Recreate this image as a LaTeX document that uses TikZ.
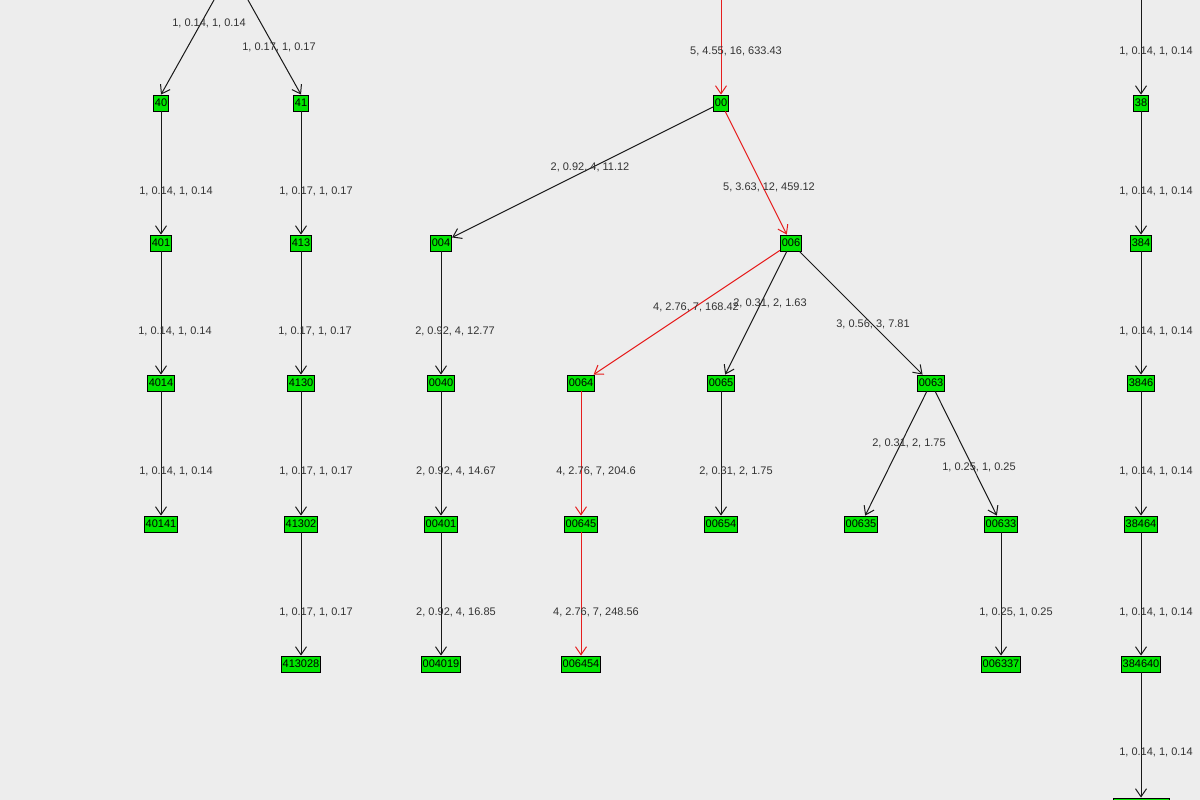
\documentclass[tikz,border=0pt]{standalone}
\usepackage{fontspec}
\setmainfont{Liberation Sans}
\usetikzlibrary{arrows.meta}
\begin{document}
\begin{tikzpicture}[x=1pt,y=-1pt,line width=1pt,
 nd/.style={draw=black,fill={rgb,255:red,0;green,230;blue,0},font=\fontsize{11}{11}\selectfont,inner sep=1.5pt,minimum height=16pt,line width=0.8pt},
 ed/.style={draw=black!90,-{Straight Barb[length=8pt,width=11pt]}},
 hot/.style={draw={rgb,255:red,230;green,30;blue,30},-{Straight Barb[length=8pt,width=11pt]}},
 lb/.style={font=\fontsize{11}{11}\selectfont,text=black!80}]
\fill[black!7] (0,0) rectangle (1200,800);
\clip (0,0) rectangle (1200,800);
\useasboundingbox (0,0) rectangle (1200,800);
\foreach \n/\x/\y in {40/161/103,41/301/103,00/721/103,38/1141/103,
401/161/243,413/301/243,004/441/243,006/791/243,384/1141/243,
4014/161/383,4130/301/383,0040/441/383,0064/581/383,0065/721/383,0063/931/383,3846/1141/383,
40141/161/524,41302/301/524,00401/441/524,00645/581/524,00654/721/524,00635/861/524,00633/1001/524,38464/1141/524,
413028/301/664,004019/441/664,006454/581/664,006337/1001/664,384640/1141/664}
  \node[nd] (n\n) at (\x,\y) {\n};
\node[nd,minimum width=56pt] (nbot) at (1141,806) {};
\coordinate (t40) at (214,0); \coordinate (t41) at (248,0);
\coordinate (t00) at (721,-5); \coordinate (t38) at (1141,-5);
\draw[ed] (t40) -- (n40.north); \draw[ed] (t41) -- (n41.north);
\draw[hot] (t00) -- (n00); \draw[ed] (t38) -- (n38);
\foreach \a/\b in {40/401,41/413,00/004,38/384,401/4014,413/4130,004/0040,006/0065,006/0063,384/3846,
4014/40141,4130/41302,0040/00401,0065/00654,0063/00635,0063/00633,3846/38464,
41302/413028,00401/004019,00633/006337,38464/384640}
  \draw[ed] (n\a) -- (n\b);
\draw[ed] (n384640) -- (nbot);
\foreach \a/\b in {00/006,006/0064,0064/00645,00645/006454}
  \draw[hot] (n\a) -- (n\b);
\foreach \x/\y/\t in {209/23/{1, 0.14, 1, 0.14},279/47/{1, 0.17, 1, 0.17},736/51/{5, 4.55, 16, 633.43},1156/51/{1, 0.14, 1, 0.14},
176/191/{1, 0.14, 1, 0.14},316/191/{1, 0.17, 1, 0.17},590/167/{2, 0.92, 4, 11.12},769/187/{5, 3.63, 12, 459.12},1156/191/{1, 0.14, 1, 0.14},
175/331/{1, 0.14, 1, 0.14},315/331/{1, 0.17, 1, 0.17},455/331/{2, 0.92, 4, 12.77},696/307/{4, 2.76, 7, 168.42},770/303/{2, 0.31, 2, 1.63},873/324/{3, 0.56, 3, 7.81},1156/331/{1, 0.14, 1, 0.14},
176/471/{1, 0.14, 1, 0.14},316/471/{1, 0.17, 1, 0.17},456/471/{2, 0.92, 4, 14.67},596/471/{4, 2.76, 7, 204.6},736/471/{2, 0.31, 2, 1.75},909/443/{2, 0.31, 2, 1.75},979/467/{1, 0.25, 1, 0.25},1156/471/{1, 0.14, 1, 0.14},
316/612/{1, 0.17, 1, 0.17},456/612/{2, 0.92, 4, 16.85},596/612/{4, 2.76, 7, 248.56},1016/612/{1, 0.25, 1, 0.25},1156/612/{1, 0.14, 1, 0.14},
1156/752/{1, 0.14, 1, 0.14}}
  \node[lb] at (\x,\y) {\t};
\end{tikzpicture}
\end{document}
